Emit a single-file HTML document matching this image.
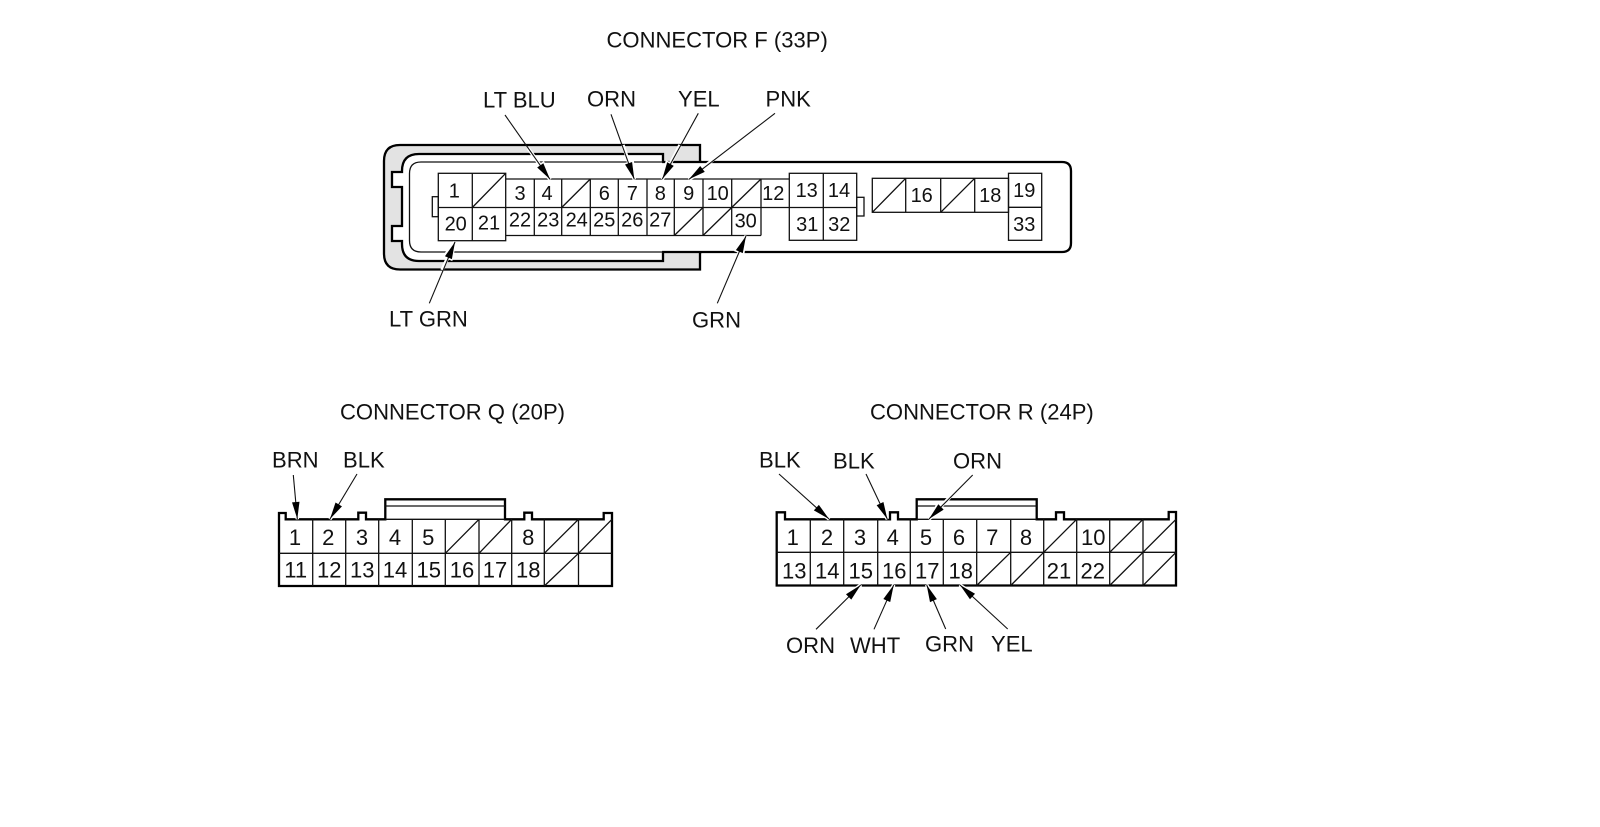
<!DOCTYPE html>
<html>
<head>
<meta charset="utf-8">
<style>
html,body{margin:0;padding:0;background:#fff;width:1600px;height:827px;overflow:hidden}
svg{display:block}
text{font-family:"Liberation Sans",Arial,sans-serif;fill:#111}
.l{font-size:22.05px}
.f text{font-size:20px;text-anchor:middle}
.q text{font-size:22px;text-anchor:middle}
.t{fill:none;stroke:#111;stroke-width:1.3}
.k{fill:none;stroke:#000;stroke-width:2.3}
.a{stroke:#111;stroke-width:1.1;fill:none;marker-end:url(#ah)}
.h{stroke:#fff;stroke-width:3.5;fill:none;marker-end:url(#hh)}
</style>
</head>
<body>
<svg width="1600" height="827" viewBox="0 0 1600 827" xmlns="http://www.w3.org/2000/svg">
<defs>
<marker id="ah" markerUnits="userSpaceOnUse" viewBox="0 0 18 10" refX="18" refY="5" markerWidth="18" markerHeight="10" orient="auto"><polygon points="1,1.25 18,5 1,8.75" fill="#000"/></marker>
<marker id="hh" markerUnits="userSpaceOnUse" viewBox="-2 -2 24 14" refX="18" refY="5" markerWidth="24" markerHeight="14" orient="auto"><polygon points="1,1.25 18,5 1,8.75" fill="#fff" stroke="#fff" stroke-width="3"/></marker>
</defs>
<rect width="1600" height="827" fill="#fff"/>

<!-- CONNECTOR F body -->
<path d="M700 162H1062Q1071 162 1071 171V243Q1071 252 1062 252H700" class="k" style="fill:#fff"/>
<path d="M700 145H400Q384 145 384 161V253.500Q384 269.500 400 269.500H700Z" style="fill:#e3e3e3;stroke:none"/>
<path d="M663 162V154H419Q402 154 402 171V172H392V187H402V226H392V241H402V244Q402 261 419 261H663V252" class="k" style="fill:#fff"/>
<rect x="662" y="163" width="40" height="88" style="fill:#fff;stroke:none"/>
<path d="M700 162V145H400Q384 145 384 161V253.500Q384 269.500 400 269.500H700V252" class="k"/>
<path d="M662 162H702M662 252H702" class="k"/>
<path d="M663 162H421Q409.500 162 409.500 173.500V240.500Q409.500 252 421 252H663" class="t"/>

<!-- F grid -->
<g class="t">
<rect x="438.300" y="173.300" width="67.400" height="67.400" style="fill:#fff"/>
<path d="M472.300 173.300V240.700M438.300 207.500H761M505.700 179H761M505.700 235.500H761"/>
<path d="M534.300 179V235.500M561.700 179V235.500M590.300 179V235.500M618.300 179V235.500M647 179V235.500M674.300 179V235.500M703 179V235.500M731.700 179V235.500M761 179V235.500"/>
<path d="M761 179H789.300M761 207.500H789.300"/>
<rect x="789.300" y="173.300" width="67.400" height="67"/>
<path d="M823.300 173.300V240.300M789.300 207.500H856.700"/>
<rect x="432.300" y="196.700" width="6" height="20"/>
<rect x="856.700" y="197.300" width="7.300" height="18.700"/>
<rect x="872.300" y="178.300" width="136.200" height="34"/>
<path d="M905.700 178.300V212.300M940.700 178.300V212.300M974.700 178.300V212.300"/>
<rect x="1008.500" y="173.300" width="33.200" height="67"/>
<path d="M1008.500 207.300H1041.700"/>
<path d="M472.300 207.500L505.700 173.300M561.700 207.500L590.300 179M731.700 207.500L761 179M674.300 235.500L703 207.500M703 235.500L731.700 207.500M872.300 212.300L905.700 178.300M940.700 212.300L974.700 178.300"/>
</g>

<!-- CONNECTOR Q -->
<g>
<path class="k" d="M279 586V513H285.700V519.300H358.300V512.700H366V519.300H385.300V499.300H505V519.300H524.300V512.700H532V519.300H603.700V513H612V586Z"/>
<path class="t" d="M385.300 506H505M385.300 519.300H505M312.700 519.300V586M345.700 519.300V586M378.700 519.300V586M412.300 519.300V586M445.300 519.300V586M479 519.300V586M511.700 519.300V586M544.300 519.300V586M578.500 519.300V586M279 553.300H612"/>
<path class="t" d="M445.300 553.300L479 519.300M479 553.300L511.700 519.300M544.300 553.300L578.500 519.300M578.500 553.300L612 519.300M544.300 586L578.500 553.300"/>
</g>

<!-- CONNECTOR R -->
<g>
<path class="k" d="M776.700 585.500V512.300H785V519.300H890V512.300H898V519.300H916.700V499.300H1036.700V519.300H1056V512.300H1064V519.300H1168.700V512H1176V585.500Z"/>
<path class="t" d="M916.700 506H1036.700M916.700 519.300H1036.700M810.300 519.300V585.500M843.700 519.300V585.500M877.700 519.300V585.500M910.300 519.300V585.500M943.300 519.300V585.500M976.700 519.300V585.500M1010.700 519.300V585.500M1043.700 519.300V585.500M1076.700 519.300V585.500M1109.700 519.300V585.500M1143 519.300V585.500M776.700 552.300H1176"/>
<path class="t" d="M1043.700 552.300L1076.700 519.300M1109.700 552.300L1143 519.300M1143 552.300L1176 519.300M976.700 585.500L1010.700 552.300M1010.700 585.500L1043.700 552.300M1109.700 585.500L1143 552.300M1143 585.500L1176 552.300"/>
</g>

<!-- arrow halos -->
<path class="h" d="M528 148L550 179.300"/>
<path class="h" d="M623 145L634.300 179.300"/>
<path class="h" d="M680 145L662.300 179"/>
<path class="h" d="M725 150L689 179.300"/>
<path class="h" d="M442 270L455 242"/>
<path class="h" d="M732 270L746 236"/>
<path class="h" d="M295.800 495L297.300 519"/>
<path class="h" d="M343 497L330 519"/>
<path class="h" d="M805 495L829 519"/>
<path class="h" d="M877 497L887.300 519"/>
<path class="h" d="M950 497L929 519"/>
<path class="h" d="M838 608L860.700 585"/>
<path class="h" d="M884 608L893.700 585"/>
<path class="h" d="M936 608L926.700 585"/>
<path class="h" d="M984 608L960 585"/>

<!-- arrows -->
<path class="a" d="M505 115L550 179.300"/>
<path class="a" d="M611 114.300L634.300 179.300"/>
<path class="a" d="M698.300 113.300L662.300 179"/>
<path class="a" d="M775 113.300L689 179.300"/>
<path class="a" d="M429.300 303.300L455 242"/>
<path class="a" d="M717.300 303.300L746 236"/>
<path class="a" d="M293.300 475L297.300 519"/>
<path class="a" d="M357 474L330 519"/>
<path class="a" d="M779 474L829 519"/>
<path class="a" d="M866 474L887.300 519"/>
<path class="a" d="M972.700 475L929 519"/>
<path class="a" d="M816 629.300L860.700 585"/>
<path class="a" d="M874 629.300L893.700 585"/>
<path class="a" d="M945.700 629L926.700 585"/>
<path class="a" d="M1007.700 629L960 585"/>

<!-- F numbers -->
<g class="f">
<text x="454.300" y="197.700">1</text><text x="520" y="200">3</text><text x="547" y="200">4</text><text x="604.300" y="200">6</text><text x="632.300" y="200">7</text><text x="660.300" y="200">8</text><text x="688.700" y="200">9</text><text x="717.700" y="200">10</text><text x="773.300" y="200">12</text><text x="806.700" y="197">13</text><text x="839" y="197">14</text><text x="921.700" y="202">16</text><text x="990.300" y="202">18</text><text x="1024.300" y="197">19</text>
<text x="455.700" y="230.700">20</text><text x="489" y="229.300">21</text><text x="520" y="226.700">22</text><text x="548.300" y="226.700">23</text><text x="576.700" y="226.700">24</text><text x="604.300" y="226.700">25</text><text x="632.300" y="226.700">26</text><text x="660.300" y="226.700">27</text><text x="745.700" y="227.300">30</text><text x="807.300" y="231">31</text><text x="839.300" y="231">32</text><text x="1024.300" y="231">33</text>
</g>

<!-- Q numbers -->
<g class="q">
<text x="295" y="545">1</text><text x="328.300" y="545">2</text><text x="362" y="545">3</text><text x="395" y="545">4</text><text x="428.300" y="545">5</text><text x="528.300" y="545">8</text>
<text x="295.700" y="577.700">11</text><text x="329.300" y="577.700">12</text><text x="362.300" y="577.700">13</text><text x="395" y="577.700">14</text><text x="428.700" y="577.700">15</text><text x="462" y="577.700">16</text><text x="495" y="577.700">17</text><text x="528.300" y="577.700">18</text>
</g>

<!-- R numbers -->
<g class="q">
<text x="792.700" y="545">1</text><text x="827" y="545">2</text><text x="860" y="545">3</text><text x="892.700" y="545">4</text><text x="926" y="545">5</text><text x="959" y="545">6</text><text x="992.300" y="545">7</text><text x="1026" y="545">8</text><text x="1093.300" y="545">10</text>
<text x="794.300" y="578.300">13</text><text x="827.300" y="578.300">14</text><text x="860.700" y="578.300">15</text><text x="894.300" y="578.300">16</text><text x="927.300" y="578.300">17</text><text x="960.700" y="578.300">18</text><text x="1059" y="578.300">21</text><text x="1092.700" y="578.300">22</text>
</g>

<!-- labels -->
<g class="l">
<text x="606.500" y="47.500">CONNECTOR F (33P)</text>
<text x="483" y="107.500">LT BLU</text>
<text x="587" y="106.500">ORN</text>
<text x="678" y="106.500">YEL</text>
<text x="765.500" y="106.500">PNK</text>
<text x="389" y="326.500">LT GRN</text>
<text x="692" y="327.500">GRN</text>
<text x="340" y="419.500">CONNECTOR Q (20P)</text>
<text x="272" y="467.500">BRN</text>
<text x="343" y="467.500">BLK</text>
<text x="870" y="419.500">CONNECTOR R (24P)</text>
<text x="759" y="467.500">BLK</text>
<text x="833" y="468.500">BLK</text>
<text x="953" y="468.500">ORN</text>
<text x="786" y="652.800">ORN</text>
<text x="850" y="652.800">WHT</text>
<text x="925" y="651.500">GRN</text>
<text x="991" y="651.500">YEL</text>
</g>
</svg>
</body>
</html>
